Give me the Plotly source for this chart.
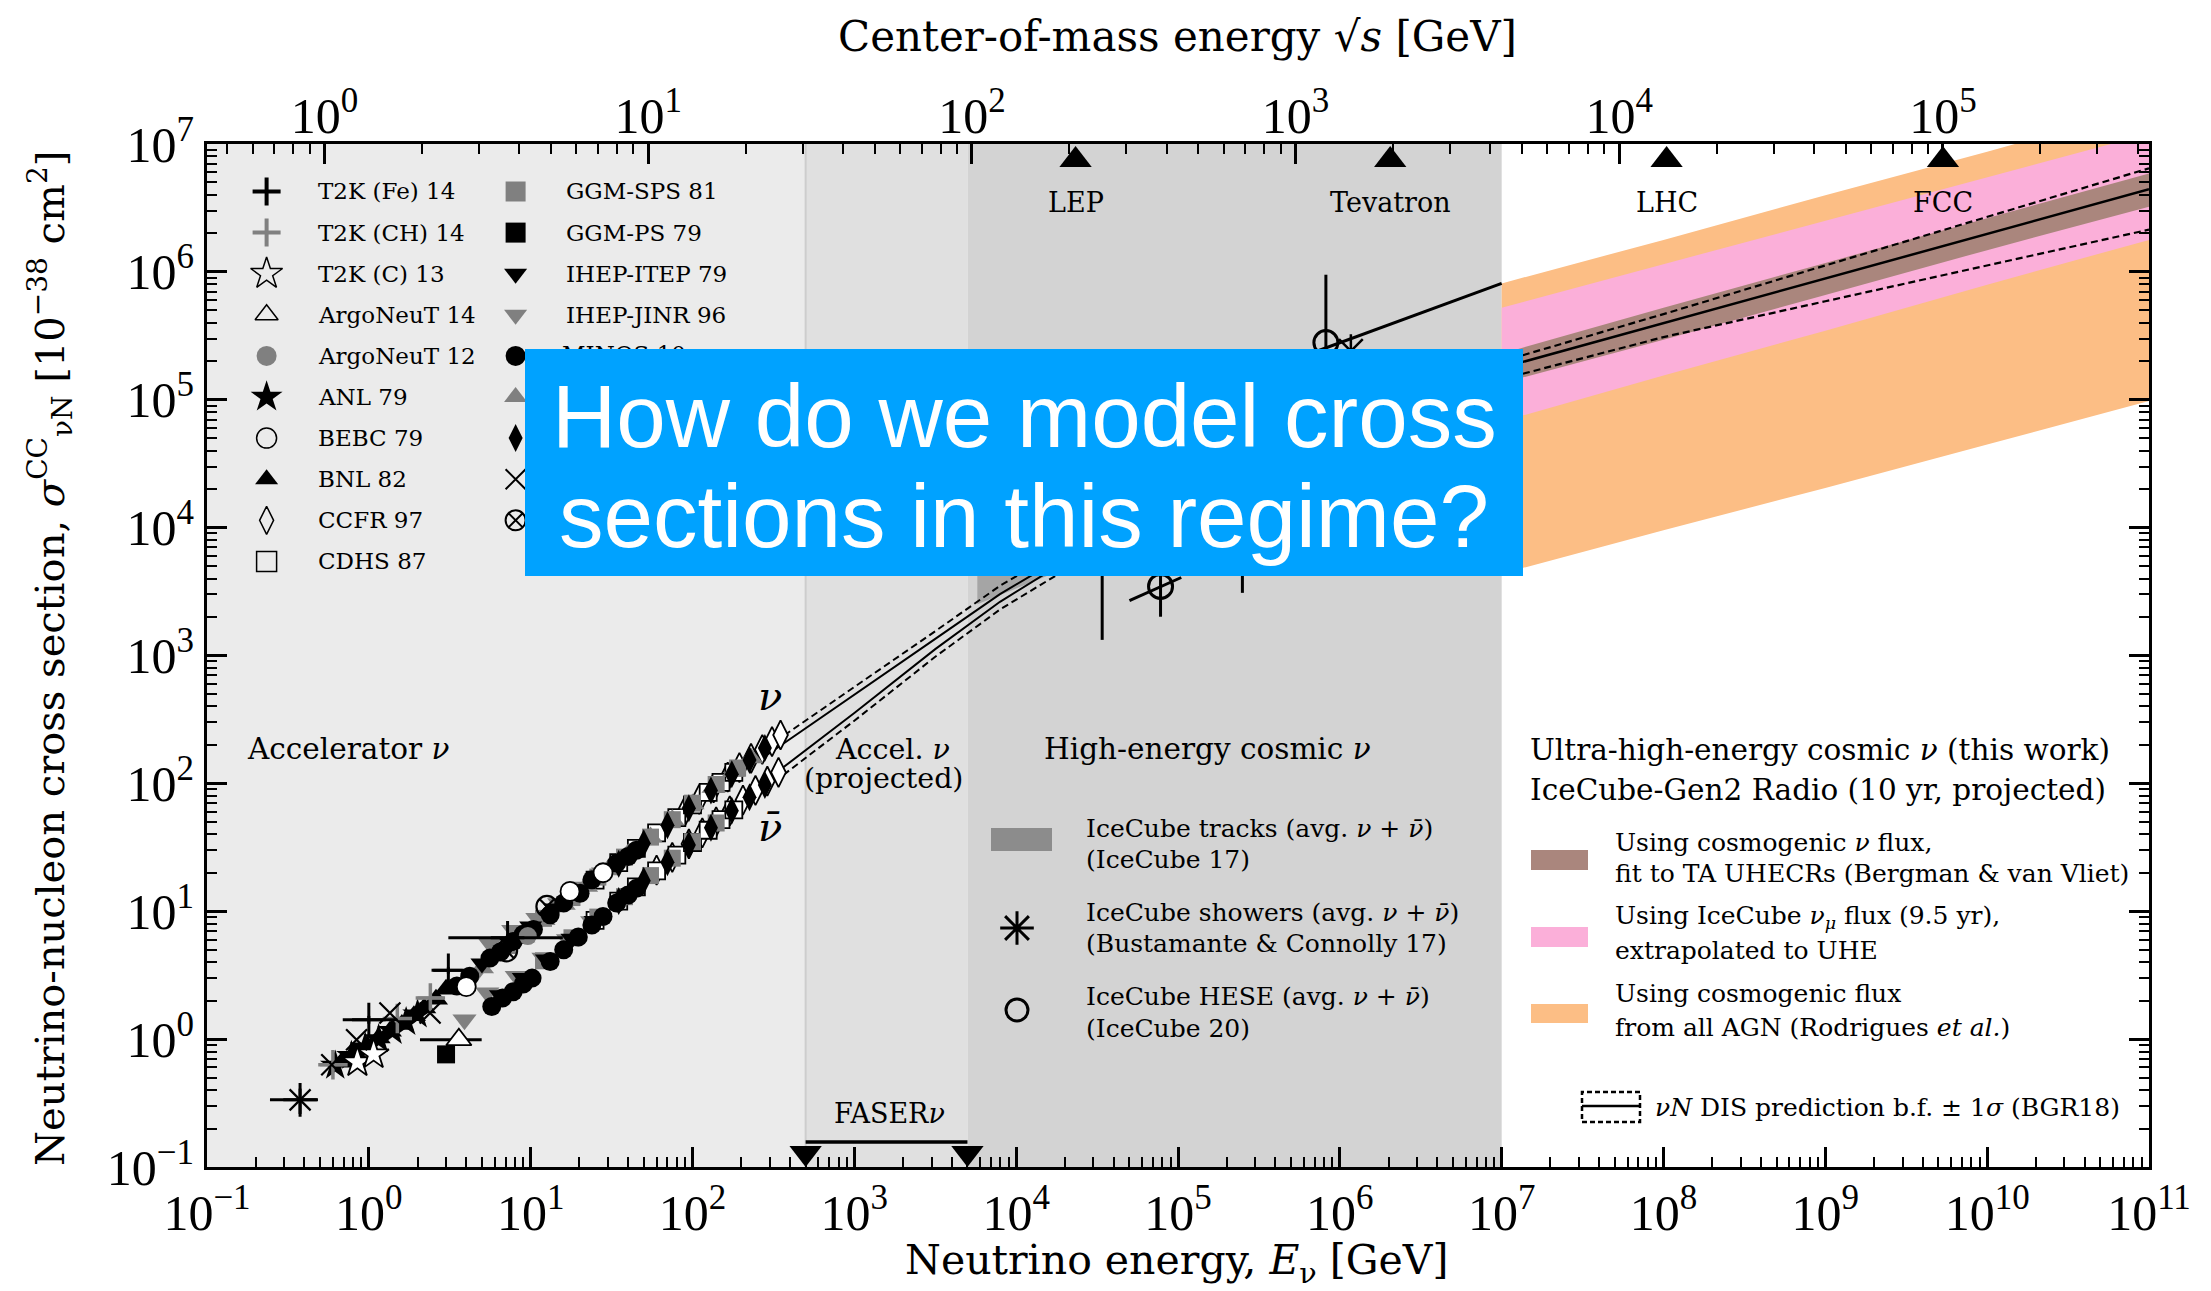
import numpy as np
import plotly.graph_objects as go

# ---------------------------------------------------------------- data ----
E_RANGE = [0.1, 1e11]          # neutrino energy range [GeV]
SIGMA_RANGE = [0.1, 1e7]       # cross-section range [1e-38 cm^2]
E_ACCEL_MAX = 500.0
E_PROJ_MAX = 5000.0
E_COSMIC_MAX = 1e7
M_NUCLEON = 0.938              # GeV, for the sqrt(s) axis

collider_names = ["LEP", "Tevatron", "LHC", "FCC"]
collider_sqrts = [209.0, 1960.0, 14000.0, 100000.0]
faser_E = [500.0, 5000.0]

# BGR18 predictions below 1e7 GeV (log10 E, log10 sigma)
bgr_logE = [2.4, 2.7, 3.0, 3.5, 3.9, 4.5, 5.0, 5.5, 6.0, 6.5, 7.0]
nu_logsig = [2.17, 2.43, 2.69, 3.13, 3.48, 3.93, 4.27, 4.57, 4.84, 5.07, 5.27]
nu_hi_logsig = [2.23, 2.49, 2.75, 3.19, 3.545, 3.99, 4.33, 4.63, 4.90, 5.13, 5.32]
nubar_logsig = [1.97, 2.26, 2.55, 3.05, 3.42, 3.89, 4.24, 4.55, 4.83, 5.06, 5.26]
nubar_lo_logsig = [1.91, 2.20, 2.49, 2.99, 3.36, 3.82, 4.16, 4.46, 4.73, 4.96, 5.17]

# UHE region (log10 E, log10 sigma)
uhe_logE = [7.0, 8.0, 9.0, 10.0, 11.0]
uhe_bf = [5.25, 5.60, 5.95, 6.30, 6.646]
uhe_dis_hi = [5.30, 5.67, 6.05, 6.43, 6.81]
uhe_dis_lo = [5.16, 5.49, 5.77, 6.05, 6.33]
brown_hi = [5.36, 5.72, 6.07, 6.42, 6.77]
brown_lo = [5.13, 5.47, 5.82, 6.17, 6.51]
pink_hi = [5.72, 6.06, 6.40, 6.74, 7.08]
pink_lo = [4.83, 5.19, 5.54, 5.90, 6.25]
orange_hi = [5.91, 6.25, 6.60, 6.94, 7.29]
orange_lo = [3.64, 3.98, 4.31, 4.65, 4.99]

# IceCube tracks band (log10)
trk_logE = [3.76, 4.4, 5.0, 5.5, 6.0]
trk_lo = [3.40, 3.73, 4.05, 4.30, 4.52]
trk_hi = [3.95, 4.35, 4.72, 5.00, 5.25]

# IceCube HESE (IceCube 20)
hese_E = [7.8e4, 8.2e5]
hese_sig = [3470.0, 2.8e5]
hese_sig_lo = [2010.0, 1.2e5]
hese_sig_hi = [1.1e4, 9.5e5]
hese_bar_logE = [[4.70, 5.02], [5.60, 7.0]]
hese_bar_logsig = [[3.43, 3.61], [5.26, 5.91]]

# IceCube showers (Bustamante & Connolly 17)
showers_E = [3.4e4, 2.5e5, 1.17e6]
showers_sig = [9000.0, 1.6e4, 2.4e5]
showers_sig_lo = [1325.0, 3090.0, 1.0e5]
showers_sig_hi = [2.0e4, 4.0e4, 2.4e5]

# Accelerator data (E [GeV], sigma [1e-38 cm^2])
t2kfe_E = [0.376, 1.0, 3.1, 7.2]
t2kfe_sig = [0.335, 1.42, 3.45, 6.2]
t2kfe_Elo = [0.245, 0.69, 2.5, 3.1]
t2kfe_Ehi = [0.485, 1.5, 3.8, 15.8]
t2kfe_siglo = [0.26, 1.32, 3.25, 5.8]
t2kfe_sighi = [0.41, 1.52, 3.65, 6.6]
t2kch_E = [0.6, 1.5, 2.4]
t2kch_sig = [0.63, 1.45, 2.1]
t2kch_Elo = [0.5, 1.25, 2.0]
t2kch_Ehi = [0.69, 1.8, 2.9]
t2kc_E = [0.85, 1.07]
t2kc_sig = [0.66, 0.76]
argo14_E = [3.6]
argo14_sig = [0.99]
argo14_Elo = [2.07]
argo14_Ehi = [4.98]
argo12_E = [9.6]
argo12_sig = [6.4]
anl_E = [0.62, 0.78, 0.95, 1.15, 1.4, 1.7, 2.0]
anl_sig = [0.62, 0.74, 0.86, 1.0, 1.16, 1.36, 1.56]
bebc_E = [4.0, 17.5, 28.0]
bebc_sig = [2.57, 14.3, 20.0]
bnl_E = [0.68, 0.82, 0.98, 1.15, 1.35, 1.6, 1.9, 2.2, 2.6, 3.0]
bnl_sig = [0.66, 0.78, 0.88, 1.02, 1.15, 1.30, 1.52, 1.75, 2.05, 2.45]
ccfr_E = [90, 110, 135, 165, 195, 230, 270, 310, 350,
          60, 75, 95, 115, 140, 170, 205, 245, 290, 340]
ccfr_sig = [61, 75, 92, 112, 133, 157, 184, 212, 239,
            21, 26.4, 33.6, 41, 50, 61, 74, 88, 104, 122]
cdhs_E = [25, 35, 45, 60, 80, 100, 125, 150, 180,
          25, 35, 45, 60, 80, 100, 125, 150, 180]
cdhs_sig = [17.5, 24, 31, 41, 54, 68, 85, 102, 122,
            8.5, 12, 15.5, 20.7, 27.5, 34.5, 43, 52, 62]
ggmsps_E = [12, 18, 26, 38, 55, 75, 100, 140, 190,
            12, 18, 26, 38, 55, 75, 100, 140]
ggmsps_sig = [8.8, 12.8, 18.5, 26.5, 38, 52, 70, 98, 132,
              4.1, 6.2, 9.0, 13, 19, 26, 35, 49]
ggmps_E = [3.0]
ggmps_sig = [0.76]
ihepitep_E = [5.0, 7.5, 10, 14, 20, 6.5, 9, 12.5, 18, 25]
ihepitep_sig = [3.9, 5.6, 7.6, 10.5, 14.5, 2.2, 3.0, 4.2, 6.1, 8.4]
ihepjinr_E = [4.5, 5.6, 7.8, 11, 15, 21, 28, 3.9, 5.4, 8.2, 12, 17, 24]
ihepjinr_sig = [3.2, 5.6, 7.1, 8.8, 11.5, 15.5, 20, 1.42, 2.3, 3.1, 4.3, 6.0, 8.3]
minos_E = [3.5, 4.2, 5.6, 6.5, 7.8, 9, 10.4, 13.2, 16, 20.2, 23.9, 28, 34, 40, 45,
           5.75, 6.7, 7.8, 9, 10.2, 13.2, 16, 19.7, 23.9, 28, 34, 40, 45]
minos_sig = [2.6, 3.1, 4.3, 4.8, 5.8, 6.6, 7.2, 9.4, 11.6, 13.8, 17.6, 19.8, 23.8, 26.8, 30,
             1.8, 2.1, 2.35, 2.7, 3.0, 4.05, 5.0, 6.3, 7.8, 9.1, 11.6, 13.4, 15.1]
nomad_E = [5, 7, 9, 12, 16, 22, 30, 40, 55, 75, 100, 135, 180, 230]
nomad_sig = [3.6, 5.1, 6.3, 8.6, 11.3, 15.6, 21, 28, 38, 52, 69, 93, 124, 158]
nutev_E = [35, 50, 70, 95, 130, 175, 225, 280, 35, 50, 70, 95, 130, 175, 225, 280]
nutev_sig = [23.5, 34, 47, 64, 88, 118, 152, 189, 12, 17.3, 24.2, 33, 45, 61, 78, 97]
sciboone_E = [0.376, 0.59, 0.84, 1.35, 2.39]
sciboone_sig = [0.335, 0.63, 0.99, 1.6, 1.6]
skat_E = [7.1, 12.6]
skat_sig = [4.9, 10.9]

# Legend of the accelerator experiments: (label, symbol, fill, line colour, line width)
acc_legend_col1 = [
    ("T2K (Fe) 14", "cross-thin-open", "black", "black", 4),
    ("T2K (CH) 14", "cross-thin-open", "#808080", "#808080", 4),
    ("T2K (C) 13", "star-open", "black", "black", 1.5),
    ("ArgoNeuT 14", "triangle-up-open", "black", "black", 1.5),
    ("ArgoNeuT 12", "circle", "#808080", "#808080", 0),
    ("ANL 79", "star", "black", "black", 0),
    ("BEBC 79", "circle-open", "black", "black", 1.5),
    ("BNL 82", "triangle-up", "black", "black", 0),
    ("CCFR 97", "diamond-tall-open", "black", "black", 1.5),
    ("CDHS 87", "square-open", "black", "black", 1.5),
]
acc_legend_col2 = [
    ("GGM-SPS 81", "square", "#808080", "#808080", 0),
    ("GGM-PS 79", "square", "black", "black", 0),
    ("IHEP-ITEP 79", "triangle-down", "black", "black", 0),
    ("IHEP-JINR 96", "triangle-down", "#808080", "#808080", 0),
    ("MINOS 10", "circle", "black", "black", 0),
    ("NOMAD 08", "triangle-up", "#808080", "#808080", 0),
    ("NuTeV 06", "diamond-tall", "black", "black", 0),
    ("SciBooNE 11", "x-thin-open", "black", "black", 2),
    ("SKAT 79", "circle-x-open", "black", "black", 2),
]

# ------------------------------------------------------------ layout ----
W, H = 2211, 1291
L, R, T, B = 207, 2149, 144, 1167
TXT = "DejaVu Serif"
NUM = "Liberation Serif"
GRAY = "#808080"
BOX = (525, 349, 1523, 576)   # overlay box, pixel corners


def px(x):
    return (x - L) / (R - L)


def py(y):
    return (B - y) / (B - T)


def p10(v):
    return list(np.power(10.0, np.asarray(v, dtype=float)))


fig = go.Figure()


def add(tr):
    tr.update(hoverinfo="skip", showlegend=False)
    fig.add_trace(tr)


# shaded energy regions
regions = [(E_RANGE[0], E_ACCEL_MAX, "#ebebeb"),
           (E_ACCEL_MAX, E_PROJ_MAX, "#e0e0e0"),
           (E_PROJ_MAX, E_COSMIC_MAX, "#d3d3d3")]
for e0, e1, col in regions:
    add(go.Scatter(x=[e0, e1, e1, e0, e0],
                   y=[SIGMA_RANGE[0], SIGMA_RANGE[0], SIGMA_RANGE[1], SIGMA_RANGE[1], SIGMA_RANGE[0]],
                   mode="lines", fill="toself", fillcolor=col, line=dict(width=0)))
add(go.Scatter(x=[E_ACCEL_MAX, E_ACCEL_MAX], y=SIGMA_RANGE, mode="lines",
               line=dict(color="#cdcdcd", width=2)))

# IceCube tracks band
add(go.Scatter(x=p10(trk_logE + trk_logE[::-1]), y=p10(trk_hi + trk_lo[::-1]),
               mode="lines", fill="toself", fillcolor="rgba(120,120,120,0.5)", line=dict(width=0)))

# UHE bands
for hi, lo, col in [(orange_hi, orange_lo, "#fcbe85"),
                    (pink_hi, pink_lo, "#fbafd9"),
                    (brown_hi, brown_lo, "#aa867d")]:
    add(go.Scatter(x=p10(uhe_logE + uhe_logE[::-1]), y=p10(hi + lo[::-1]),
                   mode="lines", fill="toself", fillcolor=col, line=dict(width=0)))

# BGR18 curves
DASH = "7px,4px"
add(go.Scatter(x=p10(bgr_logE), y=p10(nu_hi_logsig), mode="lines", line=dict(color="black", width=2, dash=DASH)))
add(go.Scatter(x=p10(bgr_logE), y=p10(nu_logsig), mode="lines", line=dict(color="black", width=2)))
add(go.Scatter(x=p10(bgr_logE), y=p10(nubar_logsig), mode="lines", line=dict(color="black", width=2)))
add(go.Scatter(x=p10(bgr_logE), y=p10(nubar_lo_logsig), mode="lines", line=dict(color="black", width=2, dash=DASH)))
add(go.Scatter(x=p10(uhe_logE), y=p10(uhe_dis_hi), mode="lines", line=dict(color="black", width=2.2, dash=DASH)))
add(go.Scatter(x=p10(uhe_logE), y=p10(uhe_dis_lo), mode="lines", line=dict(color="black", width=2.2, dash=DASH)))
add(go.Scatter(x=p10(uhe_logE), y=p10(uhe_bf), mode="lines", line=dict(color="black", width=2.5)))

# HESE slanted bin bars
for bx, by in zip(hese_bar_logE, hese_bar_logsig):
    add(go.Scatter(x=p10(bx), y=p10(by), mode="lines", line=dict(color="black", width=3)))


def yerr(sig, lo, hi):
    return dict(type="data", symmetric=False,
                array=[h - s for s, h in zip(sig, hi)],
                arrayminus=[s - l for s, l in zip(sig, lo)],
                color="black", thickness=3, width=0)


def xerr(E, lo, hi, color="black"):
    return dict(type="data", symmetric=False,
                array=[h - e for e, h in zip(E, hi)],
                arrayminus=[e - l for e, l in zip(E, lo)],
                color=color, thickness=3, width=0)


add(go.Scatter(x=hese_E, y=hese_sig, mode="markers", error_y=yerr(hese_sig, hese_sig_lo, hese_sig_hi),
               marker=dict(symbol="circle-open", size=24, color="black", line=dict(width=3))))
add(go.Scatter(x=showers_E, y=showers_sig, mode="markers",
               error_y=yerr(showers_sig, showers_sig_lo, showers_sig_hi),
               marker=dict(symbol="asterisk-open", size=28, color="black", line=dict(width=2.5))))


# accelerator data
def mk(E, sig, symbol, fill, line_col, lw, size=19, **kw):
    add(go.Scatter(x=E, y=sig, mode="markers",
                   marker=dict(symbol=symbol, size=size, color=fill,
                               line=dict(color=line_col, width=lw)), **kw))


mk(ccfr_E, ccfr_sig, "diamond-tall", "white", "black", 1.8, size=21)
mk(cdhs_E, cdhs_sig, "square", "white", "black", 1.8, size=17)
mk(nomad_E, nomad_sig, "triangle-up", GRAY, GRAY, 0, size=21)
mk(ggmsps_E, ggmsps_sig, "square", GRAY, GRAY, 0, size=17)
mk(nutev_E, nutev_sig, "diamond-tall", "black", "black", 0, size=20)
mk(ihepjinr_E, ihepjinr_sig, "triangle-down", GRAY, GRAY, 0, size=21)
mk(ihepitep_E, ihepitep_sig, "triangle-down", "black", "black", 0, size=20)
mk(minos_E, minos_sig, "circle", "black", "black", 0, size=19)
mk(bebc_E, bebc_sig, "circle", "white", "black", 1.8, size=19)
mk(skat_E, skat_sig, "circle-x-open", "black", "black", 2.2, size=21)
mk(argo12_E, argo12_sig, "circle", GRAY, GRAY, 0, size=18)
mk(bnl_E, bnl_sig, "triangle-up", "black", "black", 0, size=21)
mk(anl_E, anl_sig, "star", "black", "black", 0, size=23)
mk(t2kc_E, t2kc_sig, "star", "white", "black", 1.8, size=23)
mk(ggmps_E, ggmps_sig, "square", "black", "black", 0, size=18)
mk(argo14_E, argo14_sig, "triangle-up", "white", "black", 1.8, size=22,
   error_x=xerr(argo14_E, argo14_Elo, argo14_Ehi))
mk(t2kch_E, t2kch_sig, "cross-thin-open", GRAY, GRAY, 3.5, size=21,
   error_x=xerr(t2kch_E, t2kch_Elo, t2kch_Ehi, GRAY))
mk(sciboone_E, sciboone_sig, "x-thin-open", "black", "black", 2.2, size=21)
mk(t2kfe_E, t2kfe_sig, "cross-thin-open", "black", "black", 3, size=24,
   error_x=xerr(t2kfe_E, t2kfe_Elo, t2kfe_Ehi),
   error_y=yerr(t2kfe_sig, t2kfe_siglo, t2kfe_sighi))

# collider markers (top axis, sqrt(s))
add(go.Scatter(x=collider_sqrts, y=[py(160)] * len(collider_sqrts), xaxis="x2", yaxis="y3",
               mode="markers", marker=dict(symbol="triangle-up", size=28, color="black")))

# FASERnu range
add(go.Scatter(x=faser_E, y=[py(1142)] * 2, xaxis="x", yaxis="y3", mode="lines",
               line=dict(color="black", width=3.5)))
add(go.Scatter(x=faser_E, y=[py(1153)] * 2, xaxis="x", yaxis="y3", mode="markers",
               marker=dict(symbol="triangle-down", size=28, color="black")))

# accelerator legend markers; labels hidden by the overlay box are drawn as a text
# trace (so the box covers them), the others as annotations further below
ROW0, ROWSTEP = 191.5, 41.1
legend_cols = [(acc_legend_col1, 266.6, 314.0), (acc_legend_col2, 515.6, 562.0)]
visible_labels = []
for col_items, mx, tx in legend_cols:
    for i, (lab, sym, fill, lc, lw) in enumerate(col_items):
        Y = ROW0 + i * ROWSTEP
        size = 24 if "star" in sym else 20
        add(go.Scatter(x=[px(mx)], y=[py(Y)], xaxis="x3", yaxis="y3", mode="markers",
                       marker=dict(symbol=sym, size=size, color=fill, line=dict(color=lc, width=lw))))
        if tx > BOX[0] and Y + 12 > BOX[1]:
            if Y - 12 < BOX[1]:   # only partly covered
                add(go.Scatter(x=[px(tx)], y=[py(Y)], xaxis="x3", yaxis="y3", mode="text",
                               text=[lab], textposition="middle right",
                               textfont=dict(family=TXT, size=23, color="black")))
        else:
            visible_labels.append((lab, tx, Y))

# high-energy cosmic legend markers
add(go.Scatter(x=[px(1017)], y=[py(928)], xaxis="x3", yaxis="y3", mode="markers",
               marker=dict(symbol="asterisk-open", size=28, color="black", line=dict(width=3))))
add(go.Scatter(x=[px(1017)], y=[py(1010)], xaxis="x3", yaxis="y3", mode="markers",
               marker=dict(symbol="circle-open", size=22, color="black", line=dict(width=3))))

# ------------------------------------------------------------ axes ----
def dec_text(k):
    return "10<sup>" + ("\u2212" if k < 0 else "") + str(abs(k)) + "</sup>"


x_dec = list(range(-1, 12))
y_dec = list(range(-1, 8))
s_dec = list(range(0, 6))


def minors(decs):
    return [m * 10.0 ** k for k in decs for m in range(2, 10)]


common = dict(type="log", tickmode="array", ticks="inside", ticklen=20, tickwidth=3,
              tickcolor="black", showgrid=False, zeroline=False,
              tickfont=dict(family=NUM, size=50, color="black"))
minor_common = dict(ticks="inside", ticklen=10, tickwidth=2, tickcolor="black", showgrid=False)

s_lo = 0.5 * np.log10(2 * M_NUCLEON * E_RANGE[0])
s_hi = 0.5 * np.log10(2 * M_NUCLEON * E_RANGE[1])

fig.update_layout(
    width=W, height=H, autosize=False,
    margin=dict(l=L, r=W - R, t=T, b=H - B, pad=0),
    paper_bgcolor="white", plot_bgcolor="white", showlegend=False,
    xaxis=dict(common, range=[np.log10(E_RANGE[0]), np.log10(E_RANGE[1])],
               tickvals=[10.0 ** k for k in x_dec], ticktext=[dec_text(k) for k in x_dec],
               showline=True, linewidth=3, linecolor="black", mirror=True,
               minor=dict(minor_common, tickvals=minors(range(-1, 11)))),
    yaxis=dict(common, range=[np.log10(SIGMA_RANGE[0]), np.log10(SIGMA_RANGE[1])],
               tickvals=[10.0 ** k for k in y_dec], ticktext=[dec_text(k) for k in y_dec],
               showline=True, linewidth=3, linecolor="black", mirror="allticks",
               minor=dict(minor_common, tickvals=minors(range(-1, 7)))),
    xaxis2=dict(common, overlaying="x", side="top", anchor="y", range=[s_lo, s_hi],
                tickvals=[10.0 ** k for k in s_dec], ticktext=[dec_text(k) for k in s_dec],
                showline=False,
                minor=dict(minor_common, tickvals=minors(range(-1, 6)))),
    xaxis3=dict(overlaying="x", anchor="y3", range=[0, 1], visible=False),
    yaxis3=dict(overlaying="y", anchor="x3", range=[0, 1], visible=False),
)

# ------------------------------------------------------------ shapes ----
shapes = []
def rect(x0, y0, x1, y1, color):
    shapes.append(dict(type="rect", xref="paper", yref="paper", x0=px(x0), x1=px(x1),
                       y0=py(y1), y1=py(y0), fillcolor=color, line=dict(width=0), layer="above"))

rect(991, 828, 1052, 851, "#8c8c8c")      # tracks swatch
rect(1531, 850, 1588, 870, "#aa867d")
rect(1531, 927, 1588, 947, "#fbafd9")
rect(1531, 1004, 1588, 1023, "#fcbe85")
shapes.append(dict(type="rect", xref="paper", yref="paper", x0=px(1582), x1=px(1640),
                   y0=py(1122), y1=py(1092), line=dict(color="black", width=2.5, dash="5px,3px"),
                   fillcolor="rgba(0,0,0,0)", layer="above"))
shapes.append(dict(type="line", xref="paper", yref="paper", x0=px(1582), x1=px(1640),
                   y0=py(1106), y1=py(1106), line=dict(color="black", width=2.5), layer="above"))
# overlay question box
rect(BOX[0], BOX[1], BOX[2], BOX[3], "#00a2ff")
fig.update_layout(shapes=shapes)

# ------------------------------------------------------------ text ----
anns = []
def ann(text, X, Y, size, xanchor="left", family=TXT, color="black", **kw):
    anns.append(dict(text=text, x=px(X), y=py(Y), xref="paper", yref="paper",
                     xanchor=xanchor, yanchor="middle", showarrow=False,
                     font=dict(family=family, size=size, color=color), **kw))

for lab, tx, Y in visible_labels:
    ann(lab, tx + 2, Y, 23)

NU = "<i>\u03bd</i>"
NUBAR = "<i>\u03bd\u0304</i>"
ann("Center-of-mass energy \u221a<i>s</i> [GeV]", 1177, 36, 42, "center")
ann("Neutrino energy, <i>E</i><sub>\u03bd</sub> [GeV]", 1176, 1263, 41, "center")
ann("Neutrino-nucleon cross section, <i>\u03c3</i><sup>CC</sup><sub>\u03bdN</sub> "
    "[10<sup>\u221238</sup> cm<sup>2</sup>]", 50, 659, 40, "center", textangle=-90)

ann("Accelerator " + NU, 245, 749, 29.5)
ann("Accel. " + NU, 892, 750, 28.5, "center")
ann("(projected)", 884, 778, 28.5, "center")
ann("High-energy cosmic " + NU, 1042, 749, 29.5)
ann("Ultra-high-energy cosmic " + NU + " (this work)", 1528, 750, 29.5)
ann("IceCube-Gen2 Radio (10 yr, projected)", 1528, 790, 29.5)
ann(NU, 770, 696, 40, "center")
ann(NUBAR, 770, 827, 40, "center")

avg = "(avg. " + NU + " + " + NUBAR + ")"
ann("IceCube tracks " + avg, 1084, 828, 25)
ann("(IceCube 17)", 1084, 859, 25)
ann("IceCube showers " + avg, 1084, 912, 25)
ann("(Bustamante &amp; Connolly 17)", 1084, 943, 25)
ann("IceCube HESE " + avg, 1084, 996, 25)
ann("(IceCube 20)", 1084, 1028, 25)

ann("Using cosmogenic " + NU + " flux,", 1613, 842, 25)
ann("fit to TA UHECRs (Bergman &amp; van Vliet)", 1613, 873, 25)
ann("Using IceCube " + NU + "<sub><i>\u03bc</i></sub> flux (9.5 yr),", 1613, 917, 25)
ann("extrapolated to UHE", 1613, 950, 25)
ann("Using cosmogenic flux", 1613, 993, 25)
ann("from all AGN (Rodrigues <i>et al.</i>)", 1613, 1027, 25)
ann("<i>\u03bdN</i> DIS prediction b.f. \u00b1 1<i>\u03c3</i> (BGR18)", 1653, 1107, 25)

ann("FASER" + NU, 889, 1113, 27, "center")

for name, s in zip(collider_names, collider_sqrts):
    anns.append(dict(text=name, x=float(np.log10(s)), y=py(203), xref="x2", yref="paper",
                     xanchor="center", yanchor="middle", showarrow=False,
                     font=dict(family=TXT, size=27, color="black")))

ann("How do we model cross", 1024, 416, 89, "center", family="Liberation Sans", color="white")
ann("sections in this regime?", 1024, 516, 89, "center", family="Liberation Sans", color="white")

fig.update_layout(annotations=anns)
fig.write_html("out.html")
